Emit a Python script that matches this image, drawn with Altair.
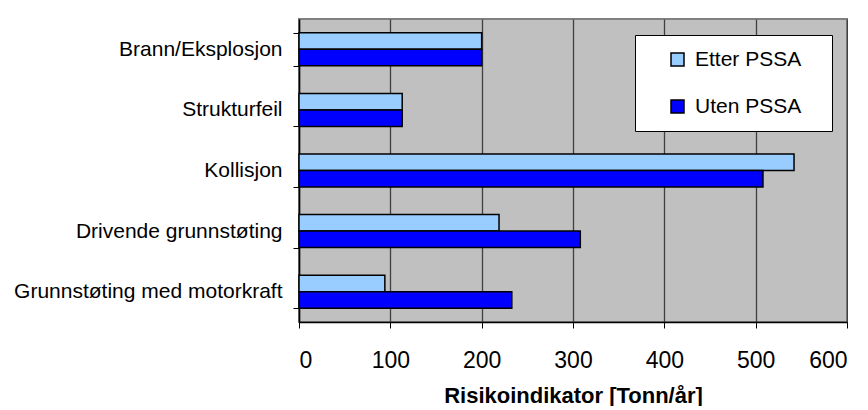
import altair as alt
import pandas as pd

categories = ["Brann/Eksplosjon", "Strukturfeil", "Kollisjon",
              "Drivende grunnstøting", "Grunnstøting med motorkraft"]
series = ["Etter PSSA", "Uten PSSA"]
etter = [200, 113, 542, 219, 94]
uten = [200, 113, 508, 308, 233]
x_ticks = [0, 100, 200, 300, 400, 500, 600]

rows = []
for c, e, u in zip(categories, etter, uten):
    rows.append({"kategori": c, "serie": series[0], "verdi": e})
    rows.append({"kategori": c, "serie": series[1], "verdi": u})
df = pd.DataFrame(rows)

FONT = "Liberation Sans"

chart = alt.Chart(df).mark_bar(stroke="black", strokeWidth=1.5).encode(
    y=alt.Y("kategori:N", sort=categories,
            scale=alt.Scale(paddingInner=0.455, paddingOuter=0.2275),
            axis=alt.Axis(title=None, labelFontSize=21, labelFont=FONT,
                          labelColor="black", labelPadding=11, tickSize=6,
                          tickColor="black", tickBand="extent", domainColor="black",
                          domainWidth=1.5, grid=False, labelLimit=400,
                          minExtent=291, maxExtent=291)),
    yOffset=alt.YOffset("serie:N", sort=series,
                        scale=alt.Scale(paddingInner=0, paddingOuter=0)),
    x=alt.X("verdi:Q", scale=alt.Scale(domain=[0, 600], nice=False),
            axis=alt.Axis(title="Risikoindikator [Tonn/år]", values=x_ticks,
                          labelFontSize=23, labelFont=FONT, labelColor="black",
                          labelPadding=21, tickSize=6, tickColor="black",
                          domainColor="black", domainWidth=1.5,
                          grid=True, gridColor="#404040", gridWidth=1.3,
                          titleFontSize=22, titleFont=FONT, titleFontWeight="bold",
                          titleColor="black", titlePadding=13)),
    color=alt.Color("serie:N", sort=series,
                    scale=alt.Scale(domain=series, range=["#99CCFF", "#0000FF"]),
                    legend=alt.Legend(title="x", titleOrient="right", titleColor="white",
                                      titleFontSize=21, titlePadding=5,
                                      orient="none", legendX=336, legendY=16,
                                      fillColor="white", strokeColor="black",
                                      padding=14, labelFontSize=21, labelFont=FONT,
                                      labelColor="black", symbolType="square",
                                      symbolSize=169, symbolStrokeColor="black",
                                      symbolStrokeWidth=1.5, rowPadding=25,
                                      symbolOffset=18, labelOffset=7)),
).properties(
    width=548, height=303,
    padding={"left": 0, "top": 0, "right": 0, "bottom": 0},
).configure_view(
    fill="#C0C0C0", stroke="#808080", strokeWidth=2
)

chart.save("out.html", embed_options={"renderer": "svg", "actions": False})
